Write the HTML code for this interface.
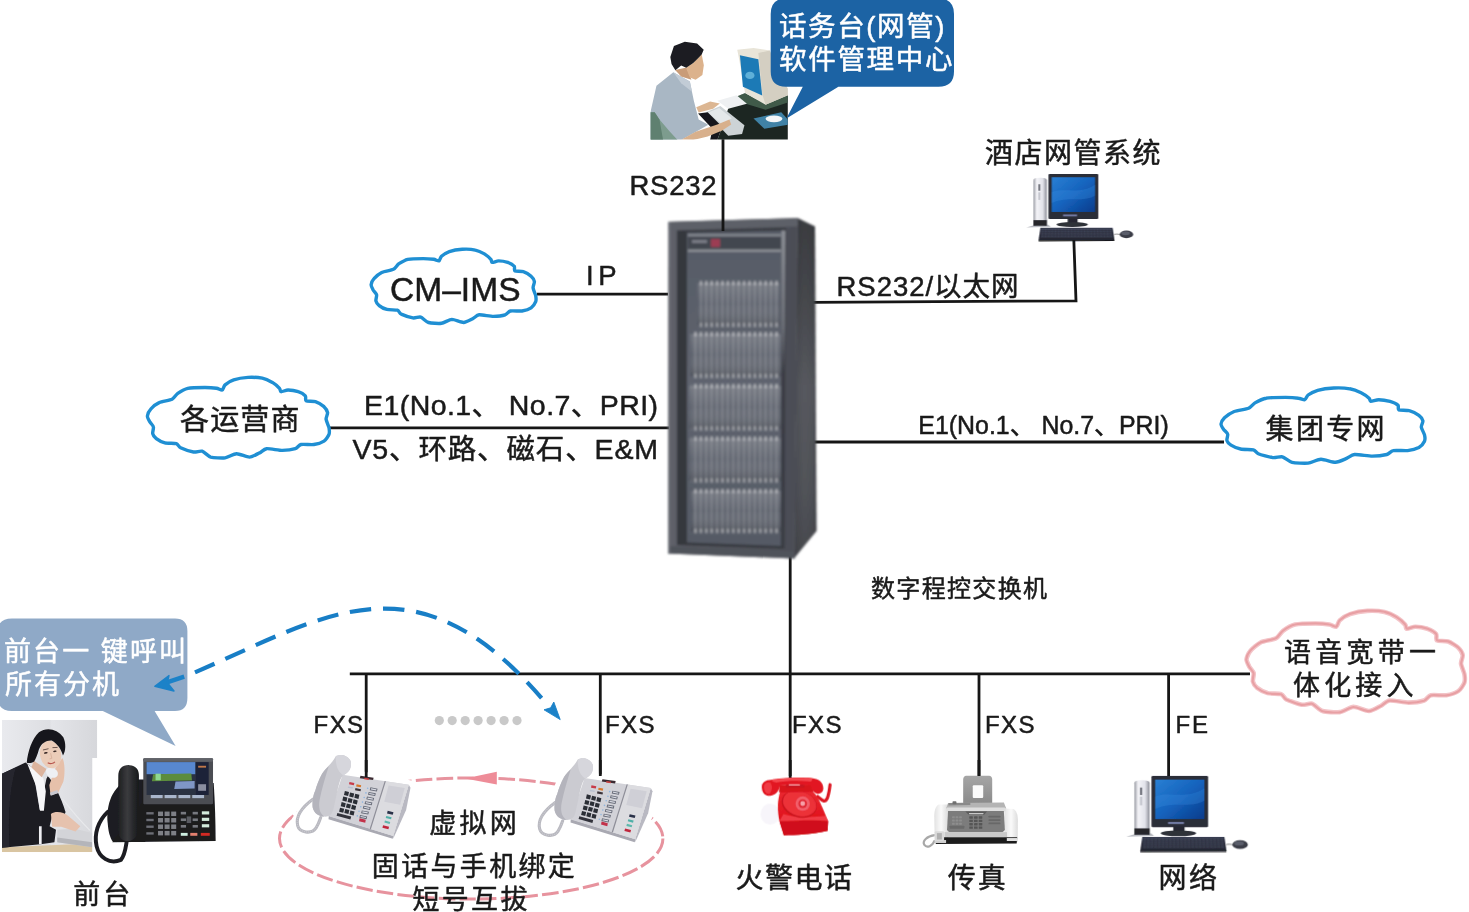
<!DOCTYPE html>
<html lang="zh-CN">
<head>
<meta charset="utf-8">
<title>数字程控交换机组网图</title>
<style>
html,body{margin:0;padding:0;background:#fff;}
body{width:1469px;height:912px;overflow:hidden;}
svg{display:block;}
text{font-family:"Liberation Sans","Noto Sans CJK SC",sans-serif;font-weight:400;stroke-width:0.5px;stroke-linejoin:round;}
</style>
</head>
<body>
<svg width="1469" height="912" viewBox="0 0 1469 912">
<defs>
<filter id="soft" x="-2%" y="-2%" width="104%" height="104%"><feGaussianBlur stdDeviation="0.35"/></filter>
</defs>
<g id="wires">
<line x1="537.0" y1="294.2" x2="668.0" y2="294.2" stroke="#161616" stroke-width="2.8"/>
<line x1="329.0" y1="427.8" x2="669.0" y2="427.8" stroke="#161616" stroke-width="2.8"/>
<line x1="812.0" y1="442.0" x2="1224.0" y2="442.0" stroke="#161616" stroke-width="2.8"/>
<polyline points="812,302.3 1076,300.9 1073.8,239" fill="none" stroke="#161616" stroke-width="2.8" stroke-linejoin="miter"/>
<line x1="790.2" y1="554.0" x2="790.2" y2="778.0" stroke="#161616" stroke-width="2.8"/>
<line x1="349.8" y1="673.8" x2="1250.0" y2="673.8" stroke="#161616" stroke-width="2.8"/>
<line x1="366.2" y1="673.8" x2="366.2" y2="778.0" stroke="#161616" stroke-width="2.8"/>
<line x1="600.3" y1="673.8" x2="600.3" y2="777.0" stroke="#161616" stroke-width="2.8"/>
<line x1="979.0" y1="673.8" x2="979.0" y2="776.0" stroke="#161616" stroke-width="2.8"/>
<line x1="1168.6" y1="673.8" x2="1168.6" y2="779.0" stroke="#161616" stroke-width="2.8"/>
</g>
<g id="clouds">
<path d="M371.1,284.8C371.2,283.4 372.7,280.0 374.0,278.6C375.2,277.2 379.5,273.5 381.7,272.4C384.0,271.3 391.5,270.3 393.4,269.3C395.4,268.4 397.0,265.1 398.6,263.9C400.3,262.8 404.8,260.0 407.7,259.3C410.6,258.7 420.3,258.6 423.3,258.6C426.3,258.6 431.9,259.1 433.7,259.3C435.5,259.6 438.0,261.2 438.9,260.9C439.8,260.5 440.3,257.3 441.5,256.2C442.7,255.2 446.9,252.4 449.3,251.6C451.7,250.8 459.2,249.5 462.3,249.3C465.3,249.1 472.7,249.5 475.3,250.1C477.8,250.6 482.5,252.8 484.4,253.9C486.2,255.0 489.9,258.3 490.8,259.3C491.8,260.3 491.2,262.2 492.1,262.4C493.1,262.6 496.8,260.9 498.6,260.9C500.5,260.9 505.9,261.8 507.7,262.4C509.5,263.0 513.4,265.3 514.2,266.3C515.1,267.2 513.8,270.3 514.9,270.9C515.9,271.5 521.4,271.0 523.3,271.7C525.2,272.3 529.8,275.1 531.1,276.3C532.4,277.4 534.1,280.3 534.4,281.7C534.6,283.0 532.9,286.2 533.1,287.8C533.2,289.5 535.3,293.9 535.7,295.6C536.0,297.2 536.2,300.3 535.7,301.7C535.1,303.2 532.7,306.8 531.1,307.9C529.5,309.0 524.4,310.6 522.0,311.0C519.6,311.3 512.3,310.5 510.3,311.0C508.4,311.4 507.1,314.2 505.1,314.8C503.2,315.5 496.5,316.4 493.4,316.4C490.4,316.4 481.6,314.6 479.2,314.8C476.7,315.1 474.5,317.8 472.7,318.7C470.8,319.6 466.0,322.4 463.6,322.5C461.1,322.6 454.5,319.4 451.9,319.4C449.3,319.5 444.2,322.9 441.5,323.3C438.8,323.7 430.9,323.2 428.5,322.5C426.1,321.8 422.5,317.7 420.7,317.1C418.9,316.6 415.2,318.3 412.9,317.9C410.6,317.5 403.0,314.9 401.2,314.1C399.4,313.2 399.0,310.7 397.3,310.2C395.7,309.7 389.1,310.0 386.9,309.4C384.8,308.9 380.4,306.6 379.2,305.6C377.9,304.6 376.2,302.2 375.9,300.9C375.6,299.7 376.9,296.0 376.6,294.8C376.3,293.5 373.9,291.3 373.3,290.2C372.7,289.0 371.0,286.1 371.1,284.8Z" fill="#fff" stroke="#1f8fd3" stroke-width="3.4" stroke-linejoin="round"/>
<path d="M147.4,416.0C147.5,414.5 149.2,410.8 150.6,409.3C151.9,407.7 156.6,403.7 159.2,402.6C161.7,401.4 169.9,400.3 172.1,399.2C174.2,398.1 175.9,394.6 177.8,393.3C179.6,392.1 184.6,389.0 187.8,388.3C191.0,387.6 201.7,387.5 205.0,387.5C208.4,387.5 214.5,388.0 216.5,388.3C218.5,388.6 221.2,390.4 222.2,390.0C223.2,389.6 223.7,386.1 225.1,384.9C226.4,383.8 231.0,380.8 233.7,379.9C236.4,379.0 244.7,377.6 248.0,377.4C251.4,377.2 259.5,377.7 262.3,378.2C265.2,378.8 270.4,381.3 272.4,382.4C274.4,383.6 278.5,387.2 279.5,388.3C280.5,389.4 280.0,391.5 281.0,391.7C282.0,391.9 286.1,390.0 288.1,390.0C290.1,390.0 296.2,391.0 298.2,391.7C300.2,392.3 304.4,394.8 305.3,395.8C306.3,396.9 304.9,400.2 306.1,400.9C307.2,401.6 313.3,401.0 315.4,401.7C317.5,402.4 322.5,405.5 324.0,406.7C325.4,408.0 327.3,411.2 327.6,412.6C327.8,414.1 325.9,417.6 326.1,419.3C326.3,421.1 328.6,426.0 329.0,427.7C329.3,429.5 329.6,432.9 329.0,434.4C328.4,436.0 325.7,440.0 324.0,441.1C322.2,442.3 316.6,444.1 313.9,444.5C311.3,444.9 303.2,444.0 301.0,444.5C298.9,445.0 297.5,448.0 295.3,448.7C293.1,449.4 285.7,450.4 282.4,450.4C279.1,450.4 269.3,448.4 266.6,448.7C264.0,449.0 261.5,451.9 259.5,452.9C257.5,453.8 252.1,457.0 249.4,457.1C246.8,457.2 239.4,453.6 236.5,453.7C233.7,453.8 228.1,457.5 225.1,457.9C222.1,458.3 213.4,457.8 210.7,457.1C208.1,456.3 204.2,451.8 202.1,451.2C200.1,450.6 196.1,452.4 193.5,452.0C191.0,451.6 182.7,448.8 180.6,447.8C178.6,446.9 178.2,444.2 176.4,443.6C174.5,443.1 167.2,443.4 164.9,442.8C162.5,442.2 157.7,439.7 156.3,438.6C154.9,437.5 153.0,435.0 152.7,433.6C152.4,432.2 153.8,428.2 153.4,426.9C153.1,425.5 150.5,423.1 149.8,421.8C149.1,420.6 147.3,417.4 147.4,416.0Z" fill="#fff" stroke="#1f8fd3" stroke-width="3.4" stroke-linejoin="round"/>
<path d="M1221.0,424.0C1221.1,422.6 1223.0,419.2 1224.5,417.7C1226.1,416.3 1231.4,412.6 1234.2,411.5C1237.0,410.4 1246.2,409.3 1248.6,408.3C1251.1,407.3 1253.0,404.1 1255.0,402.9C1257.1,401.7 1262.7,398.8 1266.3,398.2C1269.9,397.5 1281.8,397.4 1285.6,397.4C1289.3,397.4 1296.2,397.9 1298.4,398.2C1300.7,398.4 1303.7,400.1 1304.8,399.7C1306.0,399.4 1306.6,396.1 1308.1,395.0C1309.6,393.9 1314.7,391.2 1317.7,390.3C1320.7,389.5 1330.0,388.2 1333.8,388.0C1337.5,387.8 1346.6,388.2 1349.8,388.8C1353.0,389.3 1358.8,391.6 1361.1,392.7C1363.3,393.8 1368.0,397.2 1369.1,398.2C1370.2,399.2 1369.6,401.1 1370.7,401.3C1371.8,401.5 1376.5,399.7 1378.7,399.7C1381.0,399.7 1387.7,400.7 1390.0,401.3C1392.2,401.9 1397.0,404.2 1398.0,405.2C1399.0,406.2 1397.5,409.3 1398.8,409.9C1400.1,410.5 1406.9,410.0 1409.2,410.7C1411.6,411.3 1417.3,414.2 1418.9,415.4C1420.5,416.6 1422.6,419.5 1422.9,420.9C1423.2,422.2 1421.1,425.5 1421.3,427.1C1421.5,428.8 1424.1,433.3 1424.5,434.9C1424.9,436.6 1425.2,439.7 1424.5,441.2C1423.8,442.7 1420.8,446.4 1418.9,447.5C1416.9,448.5 1410.6,450.2 1407.6,450.6C1404.6,450.9 1395.6,450.1 1393.2,450.6C1390.7,451.0 1389.2,453.9 1386.8,454.5C1384.3,455.1 1376.0,456.1 1372.3,456.1C1368.6,456.1 1357.6,454.2 1354.6,454.5C1351.6,454.8 1348.8,457.5 1346.6,458.4C1344.4,459.3 1338.4,462.2 1335.4,462.3C1332.4,462.4 1324.1,459.1 1320.9,459.2C1317.7,459.3 1311.4,462.7 1308.1,463.1C1304.7,463.5 1295.0,463.0 1292.0,462.3C1289.0,461.6 1284.6,457.4 1282.4,456.8C1280.1,456.3 1275.5,458.0 1272.7,457.6C1269.9,457.3 1260.5,454.6 1258.3,453.7C1256.0,452.8 1255.5,450.3 1253.4,449.8C1251.4,449.3 1243.2,449.6 1240.6,449.0C1238.0,448.5 1232.6,446.1 1231.0,445.1C1229.4,444.1 1227.3,441.7 1226.9,440.4C1226.6,439.1 1228.1,435.4 1227.7,434.2C1227.4,432.9 1224.5,430.6 1223.7,429.5C1222.9,428.3 1220.9,425.4 1221.0,424.0Z" fill="#fff" stroke="#1f8fd3" stroke-width="3.4" stroke-linejoin="round"/>
<path d="M1246.5,659.4C1246.6,657.5 1248.6,652.9 1250.3,651.0C1251.9,649.0 1257.6,644.0 1260.6,642.5C1263.6,641.0 1273.5,639.7 1276.1,638.3C1278.7,637.0 1280.8,632.5 1283.0,630.9C1285.2,629.3 1291.2,625.5 1295.0,624.6C1298.8,623.7 1311.6,623.5 1315.6,623.5C1319.7,623.5 1327.0,624.2 1329.4,624.6C1331.8,625.0 1335.1,627.2 1336.3,626.7C1337.5,626.2 1338.1,621.9 1339.7,620.4C1341.3,618.9 1346.8,615.2 1350.1,614.1C1353.3,613.0 1363.2,611.1 1367.3,610.9C1371.3,610.7 1381.0,611.2 1384.5,612.0C1387.9,612.7 1394.1,615.7 1396.5,617.2C1398.9,618.7 1403.9,623.3 1405.1,624.6C1406.3,626.0 1405.6,628.6 1406.8,628.8C1408.0,629.1 1413.0,626.7 1415.4,626.7C1417.8,626.7 1425.0,628.0 1427.5,628.8C1429.9,629.7 1435.0,632.7 1436.1,634.1C1437.2,635.4 1435.5,639.6 1436.9,640.4C1438.3,641.3 1445.6,640.6 1448.1,641.5C1450.6,642.3 1456.7,646.2 1458.4,647.8C1460.1,649.4 1462.4,653.3 1462.7,655.2C1463.0,657.0 1460.8,661.4 1461.0,663.6C1461.2,665.8 1464.0,671.9 1464.4,674.1C1464.8,676.4 1465.1,680.6 1464.4,682.6C1463.7,684.6 1460.5,689.5 1458.4,691.0C1456.3,692.5 1449.6,694.7 1446.4,695.2C1443.2,695.7 1433.5,694.6 1430.9,695.2C1428.3,695.8 1426.6,699.6 1424.0,700.5C1421.4,701.4 1412.5,702.6 1408.5,702.6C1404.5,702.6 1392.8,700.1 1389.6,700.5C1386.4,700.9 1383.4,704.5 1381.0,705.8C1378.6,707.0 1372.2,710.9 1369.0,711.0C1365.8,711.2 1356.9,706.7 1353.5,706.8C1350.1,707.0 1343.3,711.6 1339.7,712.1C1336.1,712.6 1325.7,712.0 1322.5,711.0C1319.3,710.1 1314.6,704.4 1312.2,703.7C1309.8,702.9 1304.9,705.2 1301.9,704.7C1298.9,704.2 1288.8,700.7 1286.4,699.5C1284.0,698.2 1283.5,694.9 1281.2,694.2C1279.0,693.4 1270.3,693.9 1267.5,693.1C1264.7,692.4 1258.9,689.2 1257.2,687.9C1255.5,686.5 1253.3,683.3 1252.9,681.5C1252.5,679.8 1254.1,674.8 1253.7,673.1C1253.3,671.4 1250.3,668.4 1249.4,666.8C1248.6,665.2 1246.4,661.2 1246.5,659.4Z" fill="#fff" stroke="#f3c4c8" stroke-width="4.6" stroke-linejoin="round"/>
<path d="M1246.3,659.4C1246.4,657.5 1248.4,652.9 1250.1,650.9C1251.7,648.9 1257.4,643.9 1260.4,642.5C1263.4,641.0 1273.3,639.6 1275.9,638.2C1278.6,636.9 1280.6,632.4 1282.8,630.8C1285.0,629.2 1291.1,625.3 1294.9,624.5C1298.7,623.6 1311.6,623.4 1315.6,623.4C1319.6,623.4 1326.9,624.1 1329.4,624.5C1331.8,624.8 1335.0,627.1 1336.3,626.6C1337.5,626.1 1338.1,621.7 1339.7,620.2C1341.3,618.7 1346.8,615.0 1350.0,613.9C1353.3,612.8 1363.3,610.9 1367.3,610.7C1371.3,610.5 1381.1,611.0 1384.5,611.8C1387.9,612.5 1394.2,615.6 1396.6,617.1C1399.0,618.5 1404.0,623.1 1405.2,624.5C1406.4,625.8 1405.7,628.4 1406.9,628.7C1408.1,628.9 1413.1,626.6 1415.5,626.6C1417.9,626.6 1425.2,627.8 1427.6,628.7C1430.0,629.6 1435.1,632.6 1436.2,634.0C1437.3,635.3 1435.7,639.5 1437.1,640.3C1438.5,641.2 1445.8,640.5 1448.3,641.4C1450.8,642.3 1456.9,646.1 1458.6,647.7C1460.3,649.3 1462.6,653.3 1462.9,655.1C1463.2,657.0 1461.0,661.4 1461.2,663.6C1461.4,665.8 1464.2,672.0 1464.6,674.2C1465.0,676.4 1465.3,680.7 1464.6,682.7C1463.9,684.6 1460.7,689.7 1458.6,691.1C1456.5,692.6 1449.8,694.9 1446.5,695.4C1443.3,695.9 1433.6,694.7 1431.0,695.4C1428.4,696.0 1426.8,699.8 1424.1,700.7C1421.5,701.5 1412.7,702.8 1408.6,702.8C1404.6,702.8 1392.9,700.3 1389.7,700.7C1386.5,701.0 1383.5,704.7 1381.1,705.9C1378.6,707.2 1372.2,711.1 1369.0,711.2C1365.8,711.4 1356.9,706.9 1353.5,707.0C1350.1,707.1 1343.3,711.8 1339.7,712.3C1336.1,712.8 1325.7,712.2 1322.5,711.2C1319.3,710.3 1314.5,704.6 1312.1,703.8C1309.7,703.1 1304.8,705.4 1301.8,704.9C1298.8,704.4 1288.7,700.8 1286.3,699.6C1283.9,698.4 1283.3,695.0 1281.1,694.3C1278.9,693.6 1270.1,694.0 1267.3,693.2C1264.5,692.5 1258.7,689.3 1257.0,688.0C1255.3,686.6 1253.1,683.3 1252.7,681.6C1252.3,679.9 1253.9,674.9 1253.5,673.1C1253.1,671.4 1250.1,668.4 1249.2,666.8C1248.4,665.2 1246.2,661.2 1246.3,659.4Z" fill="none" stroke="#e8a0a4" stroke-width="2.2" stroke-linejoin="round"/>
</g>
<g id="vnet" fill="none">
<ellipse cx="471.2" cy="838.5" rx="191.7" ry="60.6" stroke="#e7939e" stroke-width="3" stroke-dasharray="16.5 4.2"/>
<path d="M465,778.4 L496.8,771.8 L496.8,784.4Z" fill="#ee8c98"/>
<circle cx="439.3" cy="720.6" r="4.6" fill="#c9c9c9"/>
<circle cx="452.2" cy="720.6" r="4.6" fill="#c9c9c9"/>
<circle cx="465.2" cy="720.6" r="4.6" fill="#c9c9c9"/>
<circle cx="478.1" cy="720.6" r="4.6" fill="#c9c9c9"/>
<circle cx="491.1" cy="720.6" r="4.6" fill="#c9c9c9"/>
<circle cx="504.1" cy="720.6" r="4.6" fill="#c9c9c9"/>
<circle cx="517.0" cy="720.6" r="4.6" fill="#c9c9c9"/>
</g>
<g id="cabinet" filter="url(#bcab)">
<defs>
<linearGradient id="cabSide" x1="0" x2="1" y1="0" y2="0"><stop offset="0" stop-color="#4e5057"/><stop offset="0.45" stop-color="#595b61"/><stop offset="0.88" stop-color="#54565c"/><stop offset="1" stop-color="#3e4046"/></linearGradient>
<linearGradient id="cabSideV" x1="0" x2="0" y1="0" y2="1"><stop offset="0" stop-color="#000" stop-opacity="0.34"/><stop offset="0.22" stop-color="#000" stop-opacity="0.22"/><stop offset="0.5" stop-color="#000" stop-opacity="0.02"/><stop offset="0.8" stop-color="#000" stop-opacity="0.08"/><stop offset="1" stop-color="#000" stop-opacity="0.2"/></linearGradient>
<linearGradient id="cabEdge" x1="0" x2="0" y1="0" y2="1"><stop offset="0" stop-color="#8c8f96"/><stop offset="0.3" stop-color="#6a6d75"/><stop offset="0.45" stop-color="#3c3e46"/><stop offset="1" stop-color="#3a3c44"/></linearGradient>
<linearGradient id="shelfShade" x1="0" x2="0" y1="0" y2="1"><stop offset="0" stop-color="#fff" stop-opacity="0.12"/><stop offset="0.5" stop-color="#fff" stop-opacity="0"/><stop offset="1" stop-color="#000" stop-opacity="0.16"/></linearGradient>
<linearGradient id="cabGlass" x1="0" x2="0" y1="0" y2="1"><stop offset="0" stop-color="#565b66"/><stop offset="0.5" stop-color="#5f646f"/><stop offset="1" stop-color="#555a65"/></linearGradient>
<linearGradient id="cabFrame" x1="0" x2="1" y1="0" y2="0"><stop offset="0" stop-color="#62646c"/><stop offset="0.1" stop-color="#585a62"/><stop offset="1" stop-color="#4b4d55"/></linearGradient>
<filter id="bcab" x="-5%" y="-2%" width="110%" height="104%"><feGaussianBlur stdDeviation="0.85"/></filter>
<pattern id="cards" x="699.5" y="0" width="5.4" height="10" patternUnits="userSpaceOnUse"><rect x="0" y="0" width="2.6" height="10" fill="#8f9299"/><rect x="2.6" y="0" width="2.8" height="10" fill="#686c76"/></pattern>
<pattern id="ticks" x="699.5" y="0" width="5.4" height="10" patternUnits="userSpaceOnUse"><rect x="0.2" y="0" width="2.4" height="10" fill="#c9cacd"/></pattern>
</defs>
<polygon points="797.5,218 815,226.5 816.5,531 794,558.5" fill="url(#cabSide)"/>
<polygon points="797.5,218 815,226.5 816.5,531 794,558.5" fill="url(#cabSideV)"/>
<polygon points="668.4,221.8 798,218 794.5,558.5 668,553.5" fill="url(#cabFrame)"/>
<polygon points="668.6,222 797.8,218.2 797.6,226.5 668.6,230" fill="#5d6068"/>
<polygon points="677,230.5 786,228 784.5,548.5 677,545" fill="#35373e"/>
<polygon points="687,232.5 782,230.5 781,546 687,542.5" fill="url(#cabGlass)"/>
<polygon points="781.6,230.5 785.4,230.4 784.3,547 780.8,546.8" fill="url(#cabEdge)"/>
<rect x="688" y="236.3" width="93" height="13.5" fill="#42464f"/>
<rect x="688" y="234.2" width="93" height="2.2" fill="#878a91"/>
<rect x="688" y="249.5" width="93" height="2.4" fill="#8e9198"/>
<rect x="692" y="240" width="15" height="3" fill="#7a7d86"/>
<rect x="711" y="239" width="9" height="8" fill="#9c3c52"/>
<rect x="699.5" y="283.0" width="79.0" height="42.0" fill="url(#cards)" opacity="0.55"/>
<rect x="697.5" y="283.0" width="82.0" height="42.0" fill="url(#shelfShade)"/>
<rect x="699.5" y="280.8" width="79.0" height="4.4" fill="url(#ticks)" opacity="0.66"/>
<rect x="699.5" y="322.8" width="79.0" height="4.4" fill="url(#ticks)" opacity="0.58"/>
<rect x="692.0" y="334.0" width="88.0" height="42.0" fill="url(#cards)" opacity="0.55"/>
<rect x="690.0" y="334.0" width="91.0" height="42.0" fill="url(#shelfShade)"/>
<rect x="692.0" y="331.8" width="88.0" height="4.4" fill="url(#ticks)" opacity="0.66"/>
<rect x="692.0" y="373.8" width="88.0" height="4.4" fill="url(#ticks)" opacity="0.58"/>
<rect x="691.0" y="386.0" width="89.0" height="42.5" fill="url(#cards)" opacity="0.55"/>
<rect x="689.0" y="386.0" width="92.0" height="42.5" fill="url(#shelfShade)"/>
<rect x="691.0" y="383.8" width="89.0" height="4.4" fill="url(#ticks)" opacity="0.66"/>
<rect x="691.0" y="426.3" width="89.0" height="4.4" fill="url(#ticks)" opacity="0.58"/>
<rect x="691.0" y="438.5" width="89.0" height="42.0" fill="url(#cards)" opacity="0.55"/>
<rect x="689.0" y="438.5" width="92.0" height="42.0" fill="url(#shelfShade)"/>
<rect x="691.0" y="436.3" width="89.0" height="4.4" fill="url(#ticks)" opacity="0.66"/>
<rect x="691.0" y="478.3" width="89.0" height="4.4" fill="url(#ticks)" opacity="0.58"/>
<rect x="693.0" y="491.0" width="87.0" height="40.0" fill="url(#cards)" opacity="0.55"/>
<rect x="691.0" y="491.0" width="90.0" height="40.0" fill="url(#shelfShade)"/>
<rect x="693.0" y="488.8" width="87.0" height="4.4" fill="url(#ticks)" opacity="0.66"/>
<rect x="693.0" y="528.8" width="87.0" height="4.4" fill="url(#ticks)" opacity="0.58"/>
<polygon points="668,546 794.3,551 794.5,558.5 668,553.5" fill="#50525a"/>
<polygon points="668.4,222 670.4,222 670,553.6 668,553.5" fill="#6d6f77"/>
</g>
<line x1="723.0" y1="138.0" x2="723.0" y2="231.0" stroke="#161616" stroke-width="2.8"/>
<g id="operator" transform="translate(645,35) scale(0.12058)" filter="url(#bop)">
<defs><filter id="bop" x="-5%" y="-5%" width="110%" height="110%"><feGaussianBlur stdDeviation="6.5"/></filter><clipPath id="cop"><rect x="45" y="30" width="1140" height="836"/></clipPath></defs>
<g clip-path="url(#cop)">
<rect x="45" y="30" width="1140" height="836" fill="#ffffff"/>
<polygon points="690,610 800,495 1000,560 1185,500 1185,870 600,870 640,760" fill="#1d2622"/>
<polygon points="760,510 830,480 1000,575 1185,500 1185,560 1000,620 800,560" fill="#3f5a4a"/>
<polygon points="765,122 900,108 1035,128 1100,300 1185,445 1185,500 1000,578 830,482 782,210" fill="#e8e4d8"/>
<polygon points="940,150 1035,128 1100,300 1185,445 1185,500 1000,578 975,500" fill="#d4cfc2"/>
<polygon points="787,168 940,202 972,502 812,430" fill="#1f7ab6"/>
<ellipse cx="870" cy="335" rx="38" ry="30" fill="#5fb0d8"/>
<polygon points="600,545 760,500 845,570 690,612" fill="#eef0f2"/>
<polygon points="505,640 625,588 825,748 805,822 690,835" fill="#cdd3d6"/>
<polygon points="520,645 615,605 720,690 640,740" fill="#e4e8ea"/>
<polygon points="900,692 1130,640 1185,700 1185,745 990,778" fill="#3f82a6"/>
<ellipse cx="1070" cy="695" rx="70" ry="28" fill="#f4f6f8"/>
<polygon points="440,650 520,640 640,760 600,870 540,870 560,780" fill="#17191c"/>
<polygon points="45,870 45,640 95,420 235,308 372,385 405,545 445,700 525,745 420,805 300,870" fill="#a9b7c4"/>
<polygon points="235,308 372,385 390,470 300,400" fill="#c2ccd6"/>
<polygon points="45,640 45,870 270,870 205,800 120,700 80,640" fill="#7d9c8e"/>
<polygon points="45,640 80,640 120,700 150,870 45,870" fill="#5f8070"/>
<polygon points="300,868 420,803 600,742 700,700 715,742 640,792 520,842 400,870" fill="#d8b08c"/>
<polygon points="425,600 540,552 620,568 565,612 445,642" fill="#dcb692"/>
<polygon points="250,290 345,270 385,372 300,345" fill="#c99c78"/>
<polygon points="400,232 470,160 488,250 476,332 420,372 372,352 340,272" fill="#dcb28c"/>
<polygon points="210,182 240,92 330,55 432,70 487,122 470,162 432,202 400,232 342,272 300,252 252,292 220,240" fill="#1b1d21"/>
</g></g>
<defs><filter id="bpc" x="-5%" y="-5%" width="110%" height="110%"><feGaussianBlur stdDeviation="3.5"/></filter><linearGradient id="pcScr" x1="0" x2="1" y1="0" y2="1"><stop offset="0" stop-color="#2a80d4"/><stop offset="0.5" stop-color="#1563bd"/><stop offset="1" stop-color="#0a3c8c"/></linearGradient><linearGradient id="pcTow" x1="0" x2="1" y1="0" y2="0"><stop offset="0" stop-color="#9a9ca4"/><stop offset="0.25" stop-color="#f4f4f8"/><stop offset="0.7" stop-color="#e2e3ea"/><stop offset="1" stop-color="#8c8e98"/></linearGradient><linearGradient id="pcKb" x1="0" x2="0" y1="0" y2="1"><stop offset="0" stop-color="#3a3e52"/><stop offset="1" stop-color="#23252f"/></linearGradient></defs>
<g transform="translate(1003.14,159.98) scale(0.10784)" filter="url(#bpc)">
<polygon points="215,625 300,600 420,600 440,620" fill="#b9bbc2"/>
<path d="M280,190 C280,172 300,165 340,165 C385,165 405,172 405,190 L405,610 L280,610Z" fill="url(#pcTow)"/>
<rect x="280" y="558" width="125" height="52" fill="#25262c"/>
<rect x="328" y="225" width="14" height="60" fill="#50525c"/>
<rect x="326" y="300" width="18" height="70" fill="#c4c6ce"/>
<rect x="420" y="130" width="462" height="418" rx="10" fill="#2b2d38"/>
<rect x="450" y="160" width="402" height="322" fill="url(#pcScr)"/>
<path d="M450,300 C560,250 700,330 852,230 L852,330 C740,400 600,330 450,400Z" fill="#3f94e6" opacity="0.28"/>
<rect x="555" y="505" width="130" height="18" fill="#7078a0"/>
<rect x="598" y="545" width="92" height="50" fill="#262830"/>
<ellipse cx="640" cy="598" rx="145" ry="24" fill="#2e3038"/>
<path d="M345,628 L1015,628 L1032,742 L328,745Z" fill="url(#pcKb)"/>
<path d="M360,640 L1005,640 L1015,720 L350,722Z" fill="#454a60" opacity="0.7"/>
<line x1="352" y1="655" x2="1008" y2="655" stroke="#2a2d3a" stroke-width="5"/>
<line x1="350" y1="671" x2="1010" y2="671" stroke="#2a2d3a" stroke-width="5"/>
<line x1="348" y1="687" x2="1012" y2="687" stroke="#2a2d3a" stroke-width="5"/>
<line x1="346" y1="703" x2="1014" y2="703" stroke="#2a2d3a" stroke-width="5"/>
<line x1="344" y1="719" x2="1016" y2="719" stroke="#2a2d3a" stroke-width="5"/>
<line x1="380" y1="642" x2="378" y2="722" stroke="#2a2d3a" stroke-width="4"/>
<line x1="410" y1="642" x2="408" y2="722" stroke="#2a2d3a" stroke-width="4"/>
<line x1="440" y1="642" x2="438" y2="722" stroke="#2a2d3a" stroke-width="4"/>
<line x1="470" y1="642" x2="469" y2="722" stroke="#2a2d3a" stroke-width="4"/>
<line x1="500" y1="642" x2="499" y2="722" stroke="#2a2d3a" stroke-width="4"/>
<line x1="530" y1="642" x2="530" y2="722" stroke="#2a2d3a" stroke-width="4"/>
<line x1="560" y1="642" x2="560" y2="722" stroke="#2a2d3a" stroke-width="4"/>
<line x1="590" y1="642" x2="590" y2="722" stroke="#2a2d3a" stroke-width="4"/>
<line x1="620" y1="642" x2="621" y2="722" stroke="#2a2d3a" stroke-width="4"/>
<line x1="650" y1="642" x2="651" y2="722" stroke="#2a2d3a" stroke-width="4"/>
<line x1="680" y1="642" x2="682" y2="722" stroke="#2a2d3a" stroke-width="4"/>
<line x1="710" y1="642" x2="712" y2="722" stroke="#2a2d3a" stroke-width="4"/>
<line x1="740" y1="642" x2="742" y2="722" stroke="#2a2d3a" stroke-width="4"/>
<line x1="770" y1="642" x2="773" y2="722" stroke="#2a2d3a" stroke-width="4"/>
<line x1="800" y1="642" x2="803" y2="722" stroke="#2a2d3a" stroke-width="4"/>
<line x1="830" y1="642" x2="834" y2="722" stroke="#2a2d3a" stroke-width="4"/>
<line x1="860" y1="642" x2="864" y2="722" stroke="#2a2d3a" stroke-width="4"/>
<line x1="890" y1="642" x2="894" y2="722" stroke="#2a2d3a" stroke-width="4"/>
<line x1="920" y1="642" x2="925" y2="722" stroke="#2a2d3a" stroke-width="4"/>
<line x1="950" y1="642" x2="955" y2="722" stroke="#2a2d3a" stroke-width="4"/>
<line x1="980" y1="642" x2="986" y2="722" stroke="#2a2d3a" stroke-width="4"/>
<line x1="1010" y1="642" x2="1016" y2="722" stroke="#2a2d3a" stroke-width="4"/>
<path d="M328,745 L1032,742 L1030,752 L330,755Z" fill="#15161b"/>
<path d="M1030,690 C1050,685 1070,688 1085,692" fill="none" stroke="#555" stroke-width="6"/>
<ellipse cx="1143" cy="690" rx="63" ry="35" fill="#3b3d47"/>
<ellipse cx="1135" cy="680" rx="40" ry="18" fill="#5a5d6a"/>
</g>
<g transform="translate(1100.00,760.00) scale(0.12255)" filter="url(#bpc)">
<polygon points="215,625 300,600 420,600 440,620" fill="#b9bbc2"/>
<path d="M280,190 C280,172 300,165 340,165 C385,165 405,172 405,190 L405,610 L280,610Z" fill="url(#pcTow)"/>
<rect x="280" y="558" width="125" height="52" fill="#25262c"/>
<rect x="328" y="225" width="14" height="60" fill="#50525c"/>
<rect x="326" y="300" width="18" height="70" fill="#c4c6ce"/>
<rect x="420" y="130" width="462" height="418" rx="10" fill="#2b2d38"/>
<rect x="450" y="160" width="402" height="322" fill="url(#pcScr)"/>
<path d="M450,300 C560,250 700,330 852,230 L852,330 C740,400 600,330 450,400Z" fill="#3f94e6" opacity="0.28"/>
<rect x="555" y="505" width="130" height="18" fill="#7078a0"/>
<rect x="598" y="545" width="92" height="50" fill="#262830"/>
<ellipse cx="640" cy="598" rx="145" ry="24" fill="#2e3038"/>
<path d="M345,628 L1015,628 L1032,742 L328,745Z" fill="url(#pcKb)"/>
<path d="M360,640 L1005,640 L1015,720 L350,722Z" fill="#454a60" opacity="0.7"/>
<line x1="352" y1="655" x2="1008" y2="655" stroke="#2a2d3a" stroke-width="5"/>
<line x1="350" y1="671" x2="1010" y2="671" stroke="#2a2d3a" stroke-width="5"/>
<line x1="348" y1="687" x2="1012" y2="687" stroke="#2a2d3a" stroke-width="5"/>
<line x1="346" y1="703" x2="1014" y2="703" stroke="#2a2d3a" stroke-width="5"/>
<line x1="344" y1="719" x2="1016" y2="719" stroke="#2a2d3a" stroke-width="5"/>
<line x1="380" y1="642" x2="378" y2="722" stroke="#2a2d3a" stroke-width="4"/>
<line x1="410" y1="642" x2="408" y2="722" stroke="#2a2d3a" stroke-width="4"/>
<line x1="440" y1="642" x2="438" y2="722" stroke="#2a2d3a" stroke-width="4"/>
<line x1="470" y1="642" x2="469" y2="722" stroke="#2a2d3a" stroke-width="4"/>
<line x1="500" y1="642" x2="499" y2="722" stroke="#2a2d3a" stroke-width="4"/>
<line x1="530" y1="642" x2="530" y2="722" stroke="#2a2d3a" stroke-width="4"/>
<line x1="560" y1="642" x2="560" y2="722" stroke="#2a2d3a" stroke-width="4"/>
<line x1="590" y1="642" x2="590" y2="722" stroke="#2a2d3a" stroke-width="4"/>
<line x1="620" y1="642" x2="621" y2="722" stroke="#2a2d3a" stroke-width="4"/>
<line x1="650" y1="642" x2="651" y2="722" stroke="#2a2d3a" stroke-width="4"/>
<line x1="680" y1="642" x2="682" y2="722" stroke="#2a2d3a" stroke-width="4"/>
<line x1="710" y1="642" x2="712" y2="722" stroke="#2a2d3a" stroke-width="4"/>
<line x1="740" y1="642" x2="742" y2="722" stroke="#2a2d3a" stroke-width="4"/>
<line x1="770" y1="642" x2="773" y2="722" stroke="#2a2d3a" stroke-width="4"/>
<line x1="800" y1="642" x2="803" y2="722" stroke="#2a2d3a" stroke-width="4"/>
<line x1="830" y1="642" x2="834" y2="722" stroke="#2a2d3a" stroke-width="4"/>
<line x1="860" y1="642" x2="864" y2="722" stroke="#2a2d3a" stroke-width="4"/>
<line x1="890" y1="642" x2="894" y2="722" stroke="#2a2d3a" stroke-width="4"/>
<line x1="920" y1="642" x2="925" y2="722" stroke="#2a2d3a" stroke-width="4"/>
<line x1="950" y1="642" x2="955" y2="722" stroke="#2a2d3a" stroke-width="4"/>
<line x1="980" y1="642" x2="986" y2="722" stroke="#2a2d3a" stroke-width="4"/>
<line x1="1010" y1="642" x2="1016" y2="722" stroke="#2a2d3a" stroke-width="4"/>
<path d="M328,745 L1032,742 L1030,752 L330,755Z" fill="#15161b"/>
<path d="M1030,690 C1050,685 1070,688 1085,692" fill="none" stroke="#555" stroke-width="6"/>
<ellipse cx="1143" cy="690" rx="63" ry="35" fill="#3b3d47"/>
<ellipse cx="1135" cy="680" rx="40" ry="18" fill="#5a5d6a"/>
</g>
<defs><filter id="bph" x="-5%" y="-5%" width="110%" height="110%"><feGaussianBlur stdDeviation="4"/></filter></defs>
<g transform="translate(285.0,745.0) scale(0.11513)" filter="url(#bph)">
<path d="M380,60 L600,60 L620,220 L1110,310 L1110,560 L970,830 L380,680 L320,780 L100,790 L60,640 L200,420 L300,180Z" fill="#fff"/>
<path d="M245,470 C150,540 90,620 110,700 C125,760 230,780 270,720 C290,690 300,660 310,630" fill="none" stroke="#b9b9c0" stroke-width="27" stroke-linecap="round"/>
<path d="M245,470 C150,540 90,620 110,700 C125,760 230,780 270,720 C290,690 300,660 310,630" fill="none" stroke="#cfcfd5" stroke-width="9" stroke-linecap="butt" stroke-dasharray="7 11"/>
<polygon points="380,615 940,788 936,815 378,645" fill="#a9a9b2"/>
<polygon points="1075,345 1090,372 1052,565 940,815 940,788" fill="#b9b9c2"/>
<polygon points="500,258 1075,345 940,790 380,618" fill="#d2d2d8"/>
<polygon points="872,314 1075,345 940,790 742,730" fill="#dcdce0"/>
<polygon points="866,313 876,315 746,731 736,728" fill="#8e8e98"/>
<polygon points="655,268 770,285 765,305 650,288" fill="#3a2a30"/>
<polygon points="690,285 730,291 727,303 687,297" fill="#d04040"/>
<polygon points="520,400 556,409 548,444 512,435" fill="#2b2d36"/>
<polygon points="565,412 601,421 593,456 557,447" fill="#2b2d36"/>
<polygon points="610,424 646,433 638,468 602,459" fill="#2b2d36"/>
<polygon points="506,448 542,457 534,492 498,483" fill="#2b2d36"/>
<polygon points="551,460 587,469 579,504 543,495" fill="#2b2d36"/>
<polygon points="596,472 632,481 624,516 588,507" fill="#2b2d36"/>
<polygon points="492,496 528,505 520,540 484,531" fill="#2b2d36"/>
<polygon points="537,508 573,517 565,552 529,543" fill="#2b2d36"/>
<polygon points="582,520 618,529 610,564 574,555" fill="#2b2d36"/>
<polygon points="478,544 514,553 506,588 470,579" fill="#2b2d36"/>
<polygon points="523,556 559,565 551,600 515,591" fill="#2b2d36"/>
<polygon points="568,568 604,577 596,612 560,603" fill="#2b2d36"/>
<polygon points="455,590 575,622 568,648 448,614" fill="#30323a"/>
<polygon points="560,322 602,330 598,350 556,342" fill="#c83a48"/>
<polygon points="622,342 662,350 658,368 618,360" fill="#d8772a"/>
<polygon points="612,374 660,384 656,402 608,392" fill="#3a3238"/>
<polygon points="548,360 590,368 587,380 545,372" fill="#b8c0d0"/>
<polygon points="742,368 804,380 798,404 736,392" fill="#656976"/>
<polygon points="748,376 794,385 792,395 746,386" fill="#d8dae2"/>
<circle cx="718" cy="376" r="7" fill="#8fb6e0"/>
<polygon points="727,408 789,420 783,444 721,432" fill="#656976"/>
<polygon points="733,416 779,425 777,435 731,426" fill="#d8dae2"/>
<circle cx="703" cy="416" r="7" fill="#8fb6e0"/>
<polygon points="712,448 774,460 768,484 706,472" fill="#656976"/>
<polygon points="718,456 764,465 762,475 716,466" fill="#d8dae2"/>
<circle cx="688" cy="456" r="7" fill="#8fb6e0"/>
<polygon points="697,488 759,500 753,524 691,512" fill="#656976"/>
<polygon points="703,496 749,505 747,515 701,506" fill="#d8dae2"/>
<circle cx="673" cy="496" r="7" fill="#8fb6e0"/>
<polygon points="682,528 744,540 738,564 676,552" fill="#656976"/>
<polygon points="688,536 734,545 732,555 686,546" fill="#d8dae2"/>
<circle cx="658" cy="536" r="7" fill="#8fb6e0"/>
<polygon points="667,568 729,580 723,604 661,592" fill="#656976"/>
<polygon points="673,576 719,585 717,595 671,586" fill="#d8dae2"/>
<circle cx="643" cy="576" r="7" fill="#8fb6e0"/>
<polygon points="652,608 714,620 708,644 646,632" fill="#656976"/>
<polygon points="658,616 704,625 702,635 656,626" fill="#d8dae2"/>
<circle cx="628" cy="616" r="7" fill="#8fb6e0"/>
<polygon points="648,636 702,650 697,676 643,662" fill="#c2304a"/>
<polygon points="892,572 942,584 936,606 886,594" fill="#2a3048"/>
<polygon points="880,616 926,628 921,646 875,634" fill="#4fb0a8"/>
<polygon points="868,656 914,668 909,686 863,674" fill="#5cb8ac"/>
<polygon points="852,696 904,710 898,732 846,718" fill="#c0283c"/>
<polygon points="900,352 1040,374 1000,520 862,492" fill="#cfcfd6"/>
<path d="M322,250 C360,190 400,170 440,100 C470,78 540,80 570,140 C580,190 565,235 505,262 C480,290 470,330 455,400 L420,560 C410,600 385,625 340,622 C290,618 250,590 240,540 C235,480 250,420 262,400 C275,350 295,300 322,250Z" fill="#cbcbd1"/>
<path d="M440,100 C470,78 540,80 570,140 C580,190 565,235 505,262 C470,240 440,200 440,100Z" fill="#d6d6dc"/>
<path d="M262,400 C275,350 295,300 322,250 C340,225 360,200 380,185 C350,280 320,380 300,480 C290,540 300,590 340,622 C290,618 250,590 240,540 C235,480 250,420 262,400Z" fill="#b4b4bc"/>
</g>
<g transform="translate(527.0,748.3) scale(0.11513)" filter="url(#bph)">
<path d="M380,60 L600,60 L620,220 L1110,310 L1110,560 L970,830 L380,680 L320,780 L100,790 L60,640 L200,420 L300,180Z" fill="#fff"/>
<path d="M245,470 C150,540 90,620 110,700 C125,760 230,780 270,720 C290,690 300,660 310,630" fill="none" stroke="#b9b9c0" stroke-width="27" stroke-linecap="round"/>
<path d="M245,470 C150,540 90,620 110,700 C125,760 230,780 270,720 C290,690 300,660 310,630" fill="none" stroke="#cfcfd5" stroke-width="9" stroke-linecap="butt" stroke-dasharray="7 11"/>
<polygon points="380,615 940,788 936,815 378,645" fill="#a9a9b2"/>
<polygon points="1075,345 1090,372 1052,565 940,815 940,788" fill="#b9b9c2"/>
<polygon points="500,258 1075,345 940,790 380,618" fill="#d2d2d8"/>
<polygon points="872,314 1075,345 940,790 742,730" fill="#dcdce0"/>
<polygon points="866,313 876,315 746,731 736,728" fill="#8e8e98"/>
<polygon points="655,268 770,285 765,305 650,288" fill="#3a2a30"/>
<polygon points="690,285 730,291 727,303 687,297" fill="#d04040"/>
<polygon points="520,400 556,409 548,444 512,435" fill="#2b2d36"/>
<polygon points="565,412 601,421 593,456 557,447" fill="#2b2d36"/>
<polygon points="610,424 646,433 638,468 602,459" fill="#2b2d36"/>
<polygon points="506,448 542,457 534,492 498,483" fill="#2b2d36"/>
<polygon points="551,460 587,469 579,504 543,495" fill="#2b2d36"/>
<polygon points="596,472 632,481 624,516 588,507" fill="#2b2d36"/>
<polygon points="492,496 528,505 520,540 484,531" fill="#2b2d36"/>
<polygon points="537,508 573,517 565,552 529,543" fill="#2b2d36"/>
<polygon points="582,520 618,529 610,564 574,555" fill="#2b2d36"/>
<polygon points="478,544 514,553 506,588 470,579" fill="#2b2d36"/>
<polygon points="523,556 559,565 551,600 515,591" fill="#2b2d36"/>
<polygon points="568,568 604,577 596,612 560,603" fill="#2b2d36"/>
<polygon points="455,590 575,622 568,648 448,614" fill="#30323a"/>
<polygon points="560,322 602,330 598,350 556,342" fill="#c83a48"/>
<polygon points="622,342 662,350 658,368 618,360" fill="#d8772a"/>
<polygon points="612,374 660,384 656,402 608,392" fill="#3a3238"/>
<polygon points="548,360 590,368 587,380 545,372" fill="#b8c0d0"/>
<polygon points="742,368 804,380 798,404 736,392" fill="#656976"/>
<polygon points="748,376 794,385 792,395 746,386" fill="#d8dae2"/>
<circle cx="718" cy="376" r="7" fill="#8fb6e0"/>
<polygon points="727,408 789,420 783,444 721,432" fill="#656976"/>
<polygon points="733,416 779,425 777,435 731,426" fill="#d8dae2"/>
<circle cx="703" cy="416" r="7" fill="#8fb6e0"/>
<polygon points="712,448 774,460 768,484 706,472" fill="#656976"/>
<polygon points="718,456 764,465 762,475 716,466" fill="#d8dae2"/>
<circle cx="688" cy="456" r="7" fill="#8fb6e0"/>
<polygon points="697,488 759,500 753,524 691,512" fill="#656976"/>
<polygon points="703,496 749,505 747,515 701,506" fill="#d8dae2"/>
<circle cx="673" cy="496" r="7" fill="#8fb6e0"/>
<polygon points="682,528 744,540 738,564 676,552" fill="#656976"/>
<polygon points="688,536 734,545 732,555 686,546" fill="#d8dae2"/>
<circle cx="658" cy="536" r="7" fill="#8fb6e0"/>
<polygon points="667,568 729,580 723,604 661,592" fill="#656976"/>
<polygon points="673,576 719,585 717,595 671,586" fill="#d8dae2"/>
<circle cx="643" cy="576" r="7" fill="#8fb6e0"/>
<polygon points="652,608 714,620 708,644 646,632" fill="#656976"/>
<polygon points="658,616 704,625 702,635 656,626" fill="#d8dae2"/>
<circle cx="628" cy="616" r="7" fill="#8fb6e0"/>
<polygon points="648,636 702,650 697,676 643,662" fill="#c2304a"/>
<polygon points="892,572 942,584 936,606 886,594" fill="#2a3048"/>
<polygon points="880,616 926,628 921,646 875,634" fill="#4fb0a8"/>
<polygon points="868,656 914,668 909,686 863,674" fill="#5cb8ac"/>
<polygon points="852,696 904,710 898,732 846,718" fill="#c0283c"/>
<polygon points="900,352 1040,374 1000,520 862,492" fill="#cfcfd6"/>
<path d="M322,250 C360,190 400,170 440,100 C470,78 540,80 570,140 C580,190 565,235 505,262 C480,290 470,330 455,400 L420,560 C410,600 385,625 340,622 C290,618 250,590 240,540 C235,480 250,420 262,400 C275,350 295,300 322,250Z" fill="#cbcbd1"/>
<path d="M440,100 C470,78 540,80 570,140 C580,190 565,235 505,262 C470,240 440,200 440,100Z" fill="#d6d6dc"/>
<path d="M262,400 C275,350 295,300 322,250 C340,225 360,200 380,185 C350,280 320,380 300,480 C290,540 300,590 340,622 C290,618 250,590 240,540 C235,480 250,420 262,400Z" fill="#b4b4bc"/>
</g>
<line x1="366.2" y1="760.0" x2="366.2" y2="777.0" stroke="#161616" stroke-width="2.8"/>
<line x1="600.3" y1="760.0" x2="600.3" y2="776.0" stroke="#161616" stroke-width="2.8"/>
<g id="firephone" transform="translate(750,765) scale(0.08772)" filter="url(#bfp)">
<defs><filter id="bfp" x="-5%" y="-5%" width="110%" height="110%"><feGaussianBlur stdDeviation="5"/></filter><linearGradient id="redBody" x1="0" x2="0" y1="0" y2="1"><stop offset="0" stop-color="#ea2a32"/><stop offset="0.55" stop-color="#e2161f"/><stop offset="1" stop-color="#cf1018"/></linearGradient></defs>
<ellipse cx="230" cy="560" rx="110" ry="120" fill="#f1ecf5" opacity="0.55"/>
<path d="M770,360 C820,400 850,440 880,380 C900,330 905,280 912,225" fill="none" stroke="#dc1822" stroke-width="36" stroke-linecap="round"/>
<path d="M345,300 L700,290 C760,330 800,420 890,640 L884,750 C700,790 520,800 385,800 L335,640 C310,520 310,400 345,300Z" fill="url(#redBody)"/>
<path d="M335,640 C520,640 720,620 890,640 L884,750 C700,790 520,800 385,800Z" fill="#d0111a"/>
<path d="M380,560 C500,600 700,600 860,580 L890,640 C720,620 520,640 335,640Z" fill="#f03a44"/>
<ellipse cx="560" cy="445" rx="205" ry="150" fill="#c8141c" transform="rotate(18 560 445)"/>
<ellipse cx="565" cy="440" rx="195" ry="140" fill="#ec3039" transform="rotate(18 565 440)"/>
<circle cx="600" cy="440" r="82" fill="#f2606c"/>
<circle cx="600" cy="440" r="50" fill="#e02834"/>
<circle cx="600" cy="440" r="28" fill="#f6a0a8"/>
<polygon points="335,225 700,222 725,305 330,310" fill="#d8141d"/>
<rect x="410" y="200" width="210" height="60" rx="10" fill="#c91520"/>
<rect x="440" y="205" width="130" height="28" rx="6" fill="#f6b0b4"/>
<path d="M135,260 C130,200 170,175 240,170 C320,150 560,135 700,150 C780,160 830,190 835,260 C838,310 800,335 760,325 C720,315 700,270 690,235 C560,215 430,215 340,235 C330,290 300,345 230,352 C170,355 138,320 135,260Z" fill="#e21822"/>
<path d="M240,172 C320,152 560,137 700,152 C720,160 700,185 690,190 C560,175 400,180 300,200 C270,195 250,185 240,172Z" fill="#f4474f"/>
<path d="M160,230 C170,200 200,190 230,200 C260,240 250,300 220,330 C180,330 150,290 160,230Z" fill="#f03a44"/>
</g>
<line x1="790.2" y1="760.0" x2="790.2" y2="776.0" stroke="#161616" stroke-width="2.8"/>
<g id="fax" transform="translate(915,765) scale(0.09872)" filter="url(#bfx)">
<defs><filter id="bfx" x="-5%" y="-5%" width="110%" height="110%"><feGaussianBlur stdDeviation="4.5"/></filter><linearGradient id="faxTray" x1="0" x2="0" y1="0" y2="1"><stop offset="0" stop-color="#a6a6a6"/><stop offset="1" stop-color="#8a8a8a"/></linearGradient><linearGradient id="faxSideL" x1="0" x2="1" y1="0" y2="0"><stop offset="0" stop-color="#e2e2e2"/><stop offset="0.5" stop-color="#fafafa"/><stop offset="1" stop-color="#dcdcdc"/></linearGradient></defs>
<path d="M200,710 C120,720 70,770 95,810 C120,845 180,820 195,770" fill="none" stroke="#a8a8a8" stroke-width="22" stroke-linecap="round"/>
<path d="M240,400 C205,420 195,470 195,520 L200,780 L335,780 L335,400Z" fill="url(#faxSideL)"/>
<path d="M905,440 L1000,445 C1035,470 1042,520 1042,560 L1040,780 L905,780Z" fill="url(#faxSideL)"/>
<path d="M520,110 L750,110 C772,112 782,125 782,150 L782,392 L488,392 L488,150 C488,125 498,112 520,110Z" fill="url(#faxTray)"/>
<rect x="585" y="205" width="106" height="130" rx="10" fill="#fbfbfb"/>
<polygon points="335,385 900,380 925,440 315,440" fill="#b4b4b4"/>
<polygon points="340,385 560,382 560,405 338,410" fill="#8a8a8a"/>
<rect x="380" y="368" width="40" height="30" rx="8" fill="#707070"/>
<rect x="318" y="430" width="600" height="42" rx="12" fill="#dedede"/>
<path d="M335,465 L900,465 L910,650 C905,672 890,680 870,682 L360,682 C340,680 328,668 325,650Z" fill="#7c7c7c"/>
<path d="M510,470 L730,470 L700,505 L545,505Z" fill="#5a5a5a"/>
<rect x="545" y="485" width="150" height="14" rx="7" fill="#c8c8c8"/>
<rect x="550" y="520" width="36" height="24" rx="4" fill="#565656"/>
<rect x="598" y="520" width="36" height="24" rx="4" fill="#565656"/>
<rect x="646" y="520" width="36" height="24" rx="4" fill="#565656"/>
<rect x="550" y="554" width="36" height="24" rx="4" fill="#565656"/>
<rect x="598" y="554" width="36" height="24" rx="4" fill="#565656"/>
<rect x="646" y="554" width="36" height="24" rx="4" fill="#565656"/>
<rect x="550" y="588" width="36" height="24" rx="4" fill="#565656"/>
<rect x="598" y="588" width="36" height="24" rx="4" fill="#565656"/>
<rect x="646" y="588" width="36" height="24" rx="4" fill="#565656"/>
<rect x="550" y="622" width="36" height="24" rx="4" fill="#565656"/>
<rect x="598" y="622" width="36" height="24" rx="4" fill="#565656"/>
<rect x="646" y="622" width="36" height="24" rx="4" fill="#565656"/>
<rect x="375" y="520" width="28" height="20" rx="4" fill="#8e8e8e"/>
<rect x="411" y="520" width="28" height="20" rx="4" fill="#8e8e8e"/>
<rect x="447" y="520" width="28" height="20" rx="4" fill="#8e8e8e"/>
<rect x="375" y="552" width="28" height="20" rx="4" fill="#8e8e8e"/>
<rect x="411" y="552" width="28" height="20" rx="4" fill="#8e8e8e"/>
<rect x="447" y="552" width="28" height="20" rx="4" fill="#8e8e8e"/>
<rect x="375" y="584" width="28" height="20" rx="4" fill="#8e8e8e"/>
<rect x="411" y="584" width="28" height="20" rx="4" fill="#8e8e8e"/>
<rect x="447" y="584" width="28" height="20" rx="4" fill="#8e8e8e"/>
<rect x="745" y="515" width="120" height="18" rx="4" fill="#676767"/>
<rect x="745" y="549" width="120" height="18" rx="4" fill="#676767"/>
<rect x="745" y="583" width="120" height="18" rx="4" fill="#676767"/>
<rect x="350" y="615" width="150" height="30" rx="6" fill="#6a6a6a"/>
<rect x="300" y="680" width="632" height="52" fill="#c9c9c9"/>
<path d="M215,732 L1035,732 L1030,795 L210,800Z" fill="#1b1b1b"/>
<rect x="205" y="760" width="110" height="30" fill="#d0d0d0"/>
<rect x="930" y="740" width="105" height="30" fill="#e2e2e2"/>
<rect x="200" y="670" width="95" height="100" rx="12" fill="#dadada"/>
<rect x="222" y="690" width="50" height="65" fill="#b0b0b0"/>
</g>
<line x1="979.0" y1="760.0" x2="979.0" y2="776.0" stroke="#161616" stroke-width="2.8"/>
<g id="receptionist" transform="translate(0,715) scale(0.15908)" filter="url(#brc)">
<defs><filter id="brc" x="-5%" y="-5%" width="110%" height="110%"><feGaussianBlur stdDeviation="3.2"/></filter><linearGradient id="rcBg" x1="0" x2="1" y1="0" y2="0"><stop offset="0" stop-color="#e9eaee"/><stop offset="0.5" stop-color="#dddee2"/><stop offset="0.52" stop-color="#e4e5e9"/><stop offset="1" stop-color="#d6d7db"/></linearGradient><clipPath id="crc"><path d="M12,30 H612 V270 H580 V862 H12Z"/></clipPath></defs>
<g clip-path="url(#crc)">
<rect x="12" y="30" width="600" height="832" fill="url(#rcBg)"/>
<polygon points="12,832 580,808 580,862 12,862" fill="#d9c5a2"/>
<polygon points="360,722 470,715 580,742 580,832 360,800" fill="#d3d4d8"/>
<polygon points="360,770 580,800 580,832 360,800" fill="#b4b5ba"/>
<path d="M395,530 C450,600 520,680 565,725" fill="none" stroke="#e8e9ec" stroke-width="7"/>
<path d="M12,370 L160,298 L205,332 L250,600 L292,400 L300,385 C340,420 400,560 412,610 L400,645 L332,622 L312,700 L352,722 L342,800 L255,812 L12,835Z" fill="#1a1a21"/>
<path d="M12,370 L100,330 C60,460 50,640 60,830 L12,835Z" fill="#26262e"/>
<polygon points="172,308 215,338 272,398 288,480 276,602 252,602 228,450" fill="#f6f6f8"/>
<polygon points="245,700 262,700 262,812 245,812" fill="#eeeef2"/>
<polygon points="212,288 292,340 262,392 198,330" fill="#dcb49e"/>
<path d="M350,330 L392,270 C410,300 408,380 398,420 L365,490 L318,505 L310,440Z" fill="#e6c0aa"/>
<path d="M290,345 C300,325 340,330 358,350 C372,372 360,395 335,395 C310,395 285,375 290,345Z" fill="#eef0f4"/>
<rect x="315" y="480" width="50" height="20" fill="#c8c8d0" transform="rotate(-20 340 490)"/>
<ellipse cx="318" cy="248" rx="66" ry="88" fill="#ebccb8" transform="rotate(-12 318 248)"/>
<ellipse cx="288" cy="238" rx="12" ry="5" fill="#3a2a28" transform="rotate(-10 288 238)"/>
<ellipse cx="345" cy="228" rx="11" ry="5" fill="#3a2a28" transform="rotate(-10 345 228)"/>
<path d="M270,220 L305,212 M330,205 L362,204" stroke="#4a3832" stroke-width="5" fill="none"/>
<path d="M300,300 C315,310 335,306 345,294" stroke="#b8564e" stroke-width="7" fill="none"/>
<path d="M318,240 L326,272 L312,276" stroke="#d0a590" stroke-width="4" fill="none"/>
<path d="M168,300 C175,230 200,150 245,108 C290,75 360,85 398,140 C415,175 415,225 396,255 C385,215 360,180 325,160 C290,158 262,175 245,215 C235,250 225,275 215,292 C200,300 185,305 168,300Z" fill="#17161a"/>
<path d="M320,622 C350,600 400,610 430,635 L505,700 L475,732 L385,702 L328,702Z" fill="#e6c2ae"/>
</g></g>
<g id="deskphone" transform="translate(90,750) scale(0.13158)" filter="url(#bdp)">
<defs><filter id="bdp" x="-5%" y="-5%" width="110%" height="110%"><feGaussianBlur stdDeviation="3.5"/></filter><linearGradient id="dpHs" x1="0" x2="1" y1="0" y2="0"><stop offset="0" stop-color="#1d1e20"/><stop offset="0.45" stop-color="#3a3b3e"/><stop offset="1" stop-color="#17181a"/></linearGradient></defs>
<path d="M135,470 C60,540 30,640 50,730 C70,820 150,870 235,835 C265,800 270,750 278,700" fill="none" stroke="#1d1e21" stroke-width="30" stroke-linecap="round"/>
<path d="M135,560 C120,420 170,270 300,225 L420,225 L420,700 L175,700 C150,660 140,620 135,560Z" fill="#1c1d20"/>
<path d="M400,235 L940,250 C950,400 955,560 955,692 L170,702 L400,400Z" fill="#1b1c1f"/>
<rect x="405" y="62" width="530" height="350" rx="8" fill="#4b4d52"/>
<rect x="405" y="62" width="530" height="28" rx="8" fill="#606268"/>
<rect x="430" y="92" width="372" height="250" fill="#2a3142"/>
<rect x="430" y="92" width="372" height="92" fill="#5888d0"/>
<polygon points="480,184 770,178 775,232 470,238" fill="#5c8c3c"/>
<polygon points="650,240 795,236 795,292 640,296" fill="#7f96c6"/>
<rect x="498" y="180" width="40" height="50" fill="#8fd890"/>
<rect x="802" y="92" width="100" height="250" fill="#1d2138"/>
<rect x="822" y="120" width="60" height="14" fill="#c0784a"/>
<rect x="822" y="260" width="60" height="50" fill="#8a8ea0"/>
<rect x="462" y="342" width="90" height="24" fill="#a9b6cc"/>
<rect x="567" y="342" width="90" height="24" fill="#a9b6cc"/>
<rect x="672" y="342" width="90" height="24" fill="#a9b6cc"/>
<rect x="777" y="342" width="90" height="24" fill="#a9b6cc"/>
<rect x="517" y="468" width="38" height="34" fill="#7e8086"/>
<rect x="567" y="468" width="38" height="34" fill="#7e8086"/>
<rect x="617" y="468" width="38" height="34" fill="#7e8086"/>
<rect x="428" y="472" width="56" height="18" fill="#6c6e74"/>
<rect x="517" y="517" width="38" height="34" fill="#7e8086"/>
<rect x="567" y="517" width="38" height="34" fill="#7e8086"/>
<rect x="617" y="517" width="38" height="34" fill="#7e8086"/>
<rect x="428" y="523" width="56" height="18" fill="#6c6e74"/>
<rect x="517" y="566" width="38" height="34" fill="#7e8086"/>
<rect x="567" y="566" width="38" height="34" fill="#7e8086"/>
<rect x="617" y="566" width="38" height="34" fill="#7e8086"/>
<rect x="428" y="574" width="56" height="18" fill="#6c6e74"/>
<rect x="517" y="615" width="38" height="34" fill="#7e8086"/>
<rect x="567" y="615" width="38" height="34" fill="#7e8086"/>
<rect x="617" y="615" width="38" height="34" fill="#7e8086"/>
<rect x="428" y="625" width="56" height="18" fill="#6c6e74"/>
<rect x="850" y="466" width="56" height="24" fill="#d4ecdc"/>
<rect x="690" y="470" width="40" height="20" fill="#77797f"/>
<rect x="780" y="470" width="40" height="20" fill="#77797f"/>
<rect x="850" y="515" width="56" height="24" fill="#d4ecdc"/>
<rect x="690" y="520" width="40" height="20" fill="#77797f"/>
<rect x="780" y="520" width="40" height="20" fill="#77797f"/>
<rect x="850" y="564" width="56" height="24" fill="#d4ecdc"/>
<rect x="690" y="570" width="40" height="20" fill="#77797f"/>
<rect x="780" y="570" width="40" height="20" fill="#77797f"/>
<rect x="735" y="505" width="34" height="50" fill="#5a5c62"/>
<rect x="690" y="630" width="52" height="22" fill="#cdeee0"/>
<rect x="762" y="630" width="54" height="22" fill="#e2806e"/>
<rect x="842" y="630" width="68" height="22" fill="#d22c22"/>
<path d="M215,200 C215,140 250,112 300,115 C350,118 375,150 372,200 L365,600 C362,660 330,692 285,692 C240,692 212,660 212,600Z" fill="url(#dpHs)"/>
</g>
<g id="bubbles">
<path d="M786,-1.5 H938.5 Q954,-1.5 954,14 V71.5 Q954,86.7 938.5,86.7 H838.4 L786.4,118.5 L802.8,86.7 H786 Q770.7,86.7 770.7,71.5 V14 Q770.7,-1.5 786,-1.5Z" fill="#1c63a4"/>
<path d="M12,618.4 H175 Q187.4,618.4 187.4,631 V698 Q187.4,711 175,711 H154.6 L175.6,746 L102.8,711 H12 Q-2,711 -2,698 V631 Q-2,618.4 12,618.4Z" fill="#8fa9c7"/>
</g>
<g id="arcs" fill="none">
<path d="M541.6,698.1 C414.1,550.9 323.8,617.1 195,672.3" stroke="#187ec6" stroke-width="4.2" stroke-dasharray="21.5 11.85"/>
<path d="M161,684.4 L184.2,676.6" stroke="#1c82c8" stroke-width="4.4"/><path d="M154.8,686.2 L169,675.6 L167.4,682.6 L174,691Z" fill="#1c82c8" stroke="#1c82c8" stroke-width="1.4" stroke-linejoin="round"/>
<path d="M560.2,719.6 L544,709.8 L550.6,707.8 L553.8,702Z" fill="#1c82c8" stroke="#1c82c8" stroke-width="0.9" stroke-linejoin="round"/>
</g>
<g id="labels">
<text x="779.0" y="35.8" font-size="27.5" fill="#fff" stroke="#fff" textLength="165.5" lengthAdjust="spacing">话务台(网管)</text>
<text x="779.0" y="69.3" font-size="27.5" fill="#fff" stroke="#fff" textLength="173.5" lengthAdjust="spacing">软件管理中心</text>
<text x="4.0" y="661.0" font-size="27" fill="#fff" stroke="#fff" textLength="182.0" lengthAdjust="spacing">前台一 键呼叫</text>
<text x="5.0" y="693.5" font-size="27" fill="#fff" stroke="#fff" textLength="114.0" lengthAdjust="spacing">所有分机</text>
<text x="390.0" y="300.9" font-size="33.5" fill="#1a1a1a" stroke="#1a1a1a" textLength="130.5" lengthAdjust="spacing">CM–IMS</text>
<text x="586.0" y="285.0" font-size="27.5" fill="#1a1a1a" stroke="#1a1a1a" textLength="30.5" lengthAdjust="spacing">IP</text>
<text x="629.5" y="194.7" font-size="27.5" fill="#1a1a1a" stroke="#1a1a1a" textLength="87.0" lengthAdjust="spacing">RS232</text>
<text x="180.0" y="429.5" font-size="29" fill="#1a1a1a" stroke="#1a1a1a" textLength="119.5" lengthAdjust="spacing">各运营商</text>
<text x="364.0" y="415.2" font-size="28.5" fill="#1a1a1a" stroke="#1a1a1a" textLength="294.0" lengthAdjust="spacing">E1(No.1、 No.7、PRI)</text>
<text x="352.5" y="459.4" font-size="28.5" fill="#1a1a1a" stroke="#1a1a1a" textLength="305.5" lengthAdjust="spacing">V5、环路、磁石、E&amp;M</text>
<text x="836.5" y="295.5" font-size="27.5" fill="#1a1a1a" stroke="#1a1a1a" textLength="182.0" lengthAdjust="spacing">RS232/以太网</text>
<text x="985.0" y="163.0" font-size="28" fill="#1a1a1a" stroke="#1a1a1a" textLength="175.5" lengthAdjust="spacing">酒店网管系统</text>
<text x="918.3" y="434.0" font-size="24.9" fill="#1a1a1a" stroke="#1a1a1a" textLength="250.5" lengthAdjust="spacing">E1(No.1、 No.7、PRI)</text>
<text x="1265.6" y="439.0" font-size="28" fill="#1a1a1a" stroke="#1a1a1a" textLength="119.0" lengthAdjust="spacing">集团专网</text>
<text x="871.0" y="597.0" font-size="24" fill="#1a1a1a" stroke="#1a1a1a" textLength="176.0" lengthAdjust="spacing">数字程控交换机</text>
<text x="1284.0" y="662.0" font-size="27" fill="#1a1a1a" stroke="#1a1a1a" textLength="152.0" lengthAdjust="spacing">语音宽带一</text>
<text x="1293.0" y="695.0" font-size="27" fill="#1a1a1a" stroke="#1a1a1a" textLength="120.5" lengthAdjust="spacing">体化接入</text>
<text x="313.6" y="732.8" font-size="24" fill="#1a1a1a" stroke="#1a1a1a" textLength="49.5" lengthAdjust="spacing">FXS</text>
<text x="605.0" y="732.8" font-size="24" fill="#1a1a1a" stroke="#1a1a1a" textLength="49.5" lengthAdjust="spacing">FXS</text>
<text x="792.0" y="732.8" font-size="24" fill="#1a1a1a" stroke="#1a1a1a" textLength="49.5" lengthAdjust="spacing">FXS</text>
<text x="985.0" y="732.8" font-size="24" fill="#1a1a1a" stroke="#1a1a1a" textLength="49.5" lengthAdjust="spacing">FXS</text>
<text x="1175.6" y="732.8" font-size="24" fill="#1a1a1a" stroke="#1a1a1a" textLength="32.5" lengthAdjust="spacing">FE</text>
<text x="429.2" y="832.5" font-size="27" fill="#1a1a1a" stroke="#1a1a1a" textLength="87.5" lengthAdjust="spacing">虚拟网</text>
<text x="371.8" y="876.0" font-size="27" fill="#1a1a1a" stroke="#1a1a1a" textLength="203.0" lengthAdjust="spacing">固话与手机绑定</text>
<text x="412.4" y="909.0" font-size="27" fill="#1a1a1a" stroke="#1a1a1a" textLength="115.0" lengthAdjust="spacing">短号互拔</text>
<text x="735.6" y="888.0" font-size="28" fill="#1a1a1a" stroke="#1a1a1a" textLength="116.5" lengthAdjust="spacing">火警电话</text>
<text x="947.7" y="888.0" font-size="28" fill="#1a1a1a" stroke="#1a1a1a" textLength="58.0" lengthAdjust="spacing">传真</text>
<text x="1158.5" y="888.0" font-size="28" fill="#1a1a1a" stroke="#1a1a1a" textLength="58.5" lengthAdjust="spacing">网络</text>
<text x="73.2" y="904.0" font-size="27" fill="#1a1a1a" stroke="#1a1a1a" textLength="57.0" lengthAdjust="spacing">前台</text>
</g>
</svg>
</body>
</html>
